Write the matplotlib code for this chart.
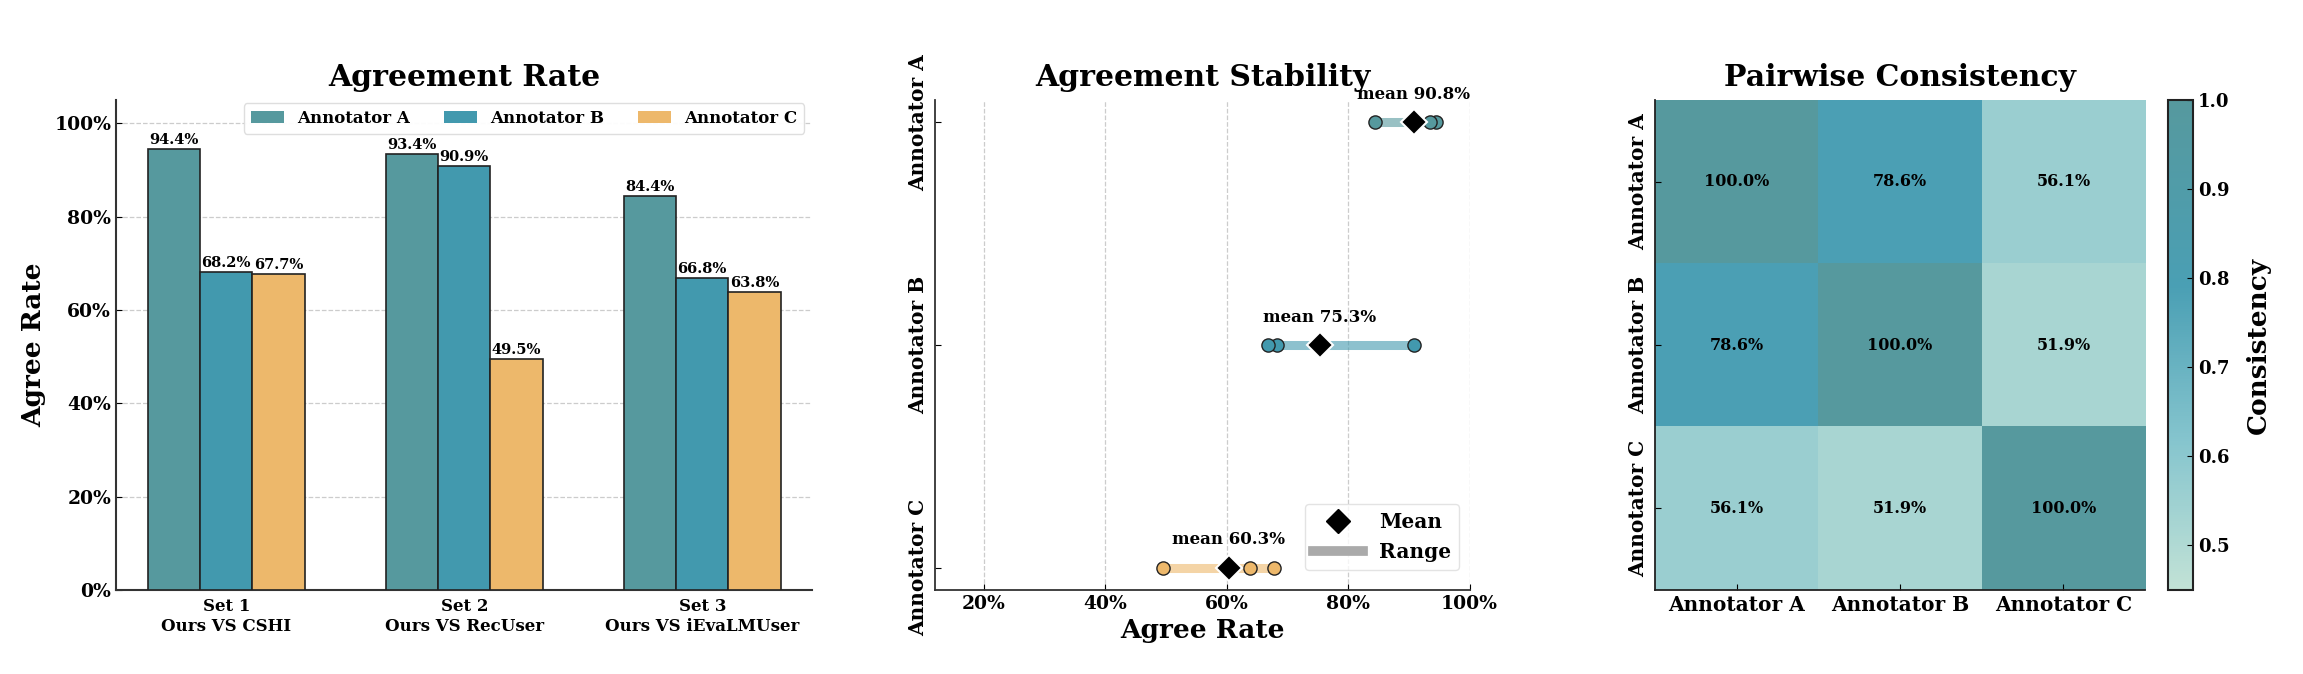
import matplotlib
matplotlib.use("Agg")
import matplotlib.pyplot as plt
import numpy as np
from matplotlib.colors import LinearSegmentedColormap
from matplotlib.lines import Line2D
from matplotlib.patches import Patch
from matplotlib.ticker import PercentFormatter

plt.rcParams['font.family'] = ['DejaVu Serif']
plt.rcParams['font.weight'] = 'bold'
plt.rcParams['axes.titleweight'] = 'bold'
plt.rcParams['axes.labelweight'] = 'bold'
plt.rcParams['xtick.direction'] = 'in'
plt.rcParams['ytick.direction'] = 'in'

# data
sets = ["Set 1\nOurs VS CSHI", "Set 2\nOurs VS RecUser", "Set 3\nOurs VS iEvaLMUser"]
annotators = ["Annotator A", "Annotator B", "Annotator C"]
rate_a = [94.44, 93.42, 84.44]
rate_b = [68.2, 90.9, 66.8]
rate_c = [67.7, 49.5, 63.8]
consistency = [[1.000, 0.786, 0.561],
               [0.786, 1.000, 0.519],
               [0.561, 0.519, 1.000]]

colors = ["#56999E", "#4299AE", "#EDB86B"]
cmap = LinearSegmentedColormap.from_list(
    "cons", [(0.0, "#C2E2D6"), (0.3, "#86C5CE"), (0.62, "#4A9FB4"), (1.0, "#56999E")])

fig = plt.figure(figsize=(23.03, 6.74), dpi=100)
ax1 = fig.add_axes([0.0504, 0.1246, 0.3024, 0.727])
ax2 = fig.add_axes([0.4062, 0.1246, 0.2319, 0.727])
ax3 = fig.add_axes([0.7186, 0.1246, 0.2128, 0.727])
cax = fig.add_axes([0.9414, 0.1246, 0.01086, 0.727])

# --- panel 1: grouped bars
x = np.arange(len(sets))
w = 0.22
all_rates = [rate_a, rate_b, rate_c]
for i, (vals, c, name) in enumerate(zip(all_rates, colors, annotators)):
    bars = ax1.bar(x + (i - 1) * w, vals, w, color=c, edgecolor="#222222",
                   linewidth=1.2, label=name, zorder=3)
    ax1.bar_label(bars, labels=[f"{v:.1f}%" for v in vals], padding=1.5,
                  fontsize=10.5, fontweight='bold')
ax1.set_ylim(0, 105)
ax1.set_yticks(np.arange(0, 101, 20))
ax1.yaxis.set_major_formatter(PercentFormatter(100, decimals=0))
ax1.set_xticks(x)
ax1.set_xticklabels(sets, fontsize=12)
ax1.tick_params(axis='x', length=0, pad=6)
ax1.tick_params(axis='y', labelsize=13.5, length=4)
ax1.set_ylabel("Agree Rate", fontsize=19, labelpad=6)
ax1.set_title("Agreement Rate", fontsize=21.5, pad=10)
ax1.grid(axis='y', linestyle='--', color='#cccccc', linewidth=0.9, zorder=0)
ax1.set_axisbelow(True)
for s in ['top', 'right']:
    ax1.spines[s].set_visible(False)
for s in ['left', 'bottom']:
    ax1.spines[s].set_color('#333333')
    ax1.spines[s].set_linewidth(1.5)
leg_handles = [Patch(facecolor=c, label=n) for c, n in zip(colors, annotators)]
leg1 = ax1.legend(handles=leg_handles, loc='upper right', ncol=3, fontsize=12,
                  bbox_to_anchor=(1.0, 1.01), borderaxespad=0.5, fancybox=True,
                  framealpha=0.95)
leg1.get_frame().set_edgecolor('#dddddd')

# --- panel 2: stability
ypos = np.arange(len(annotators))
for i, (name, c) in enumerate(zip(annotators, colors)):
    vals = all_rates[i]
    mean = np.mean(vals)
    ax2.plot([min(vals), max(vals)], [i, i], color=c, alpha=0.6, linewidth=6.5,
             solid_capstyle='butt', zorder=2)
    ax2.plot(vals, [i] * len(vals), 'o', color=c, markersize=9.5,
             markeredgecolor='#222222', markeredgewidth=1.0, zorder=3)
    ax2.plot([mean], [i], 'D', color='black', markersize=13,
             markeredgecolor='white', markeredgewidth=1.5, zorder=4)
    ax2.annotate(f"mean {mean:.1f}%", (mean, i), xytext=(0, 14),
                 textcoords='offset points', ha='center', va='bottom',
                 fontsize=12, fontweight='bold')
ax2.set_ylim(2.1, -0.1)
ax2.set_yticks(ypos)
ax2.set_yticklabels(annotators, rotation=90, va='center', fontsize=14.5)
ax2.set_xlim(12, 100)
ax2.set_xticks(np.arange(20, 101, 20))
ax2.xaxis.set_major_formatter(PercentFormatter(100, decimals=0))
ax2.tick_params(axis='x', labelsize=13.5, length=4)
ax2.tick_params(axis='y', length=4, pad=5)
ax2.set_xlabel("Agree Rate", fontsize=19)
ax2.set_title("Agreement Stability", fontsize=21.5, pad=10)
ax2.grid(axis='x', linestyle='--', color='#cccccc', linewidth=0.9, zorder=0)
ax2.set_axisbelow(True)
for s in ['top', 'right']:
    ax2.spines[s].set_visible(False)
for s in ['left', 'bottom']:
    ax2.spines[s].set_color('#333333')
    ax2.spines[s].set_linewidth(1.3)
leg2_handles = [Line2D([0], [0], marker='D', color='black', linestyle='none',
                       markersize=12, label='Mean'),
                Line2D([0], [0], color='#aaaaaa', linewidth=7, label='Range')]
leg2 = ax2.legend(handles=leg2_handles, loc='lower right', fontsize=14.5,
                  bbox_to_anchor=(1.0, 0.02), handlelength=2.5, fancybox=True)
leg2.get_frame().set_edgecolor('#dddddd')

# --- panel 3: heatmap
mat = np.array(consistency)
im = ax3.imshow(mat, cmap=cmap, vmin=0.45, vmax=1.0, aspect='auto')
for r in range(mat.shape[0]):
    for c in range(mat.shape[1]):
        ax3.text(c, r, f"{mat[r, c] * 100:.1f}%", ha='center', va='center',
                 fontsize=11.5, fontweight='bold', color='black')
ax3.set_xticks(range(len(annotators)))
ax3.set_xticklabels(annotators, fontsize=14.5)
ax3.set_yticks(range(len(annotators)))
ax3.set_yticklabels(annotators, rotation=90, va='center', fontsize=14.5)
ax3.tick_params(axis='both', length=4)
ax3.tick_params(axis='y', pad=5)
ax3.set_title("Pairwise Consistency", fontsize=21.5, pad=10)
for s in ['top', 'right']:
    ax3.spines[s].set_visible(False)
for s in ['left', 'bottom']:
    ax3.spines[s].set_color('#222222')
    ax3.spines[s].set_linewidth(1.3)
cb = fig.colorbar(im, cax=cax)
cb.set_ticks([0.5, 0.6, 0.7, 0.8, 0.9, 1.0])
cb.ax.tick_params(labelsize=13, length=4, direction='in')
cb.outline.set_linewidth(1.5)
cb.outline.set_edgecolor('#222222')
cb.set_label("Consistency", fontsize=19, fontweight='bold', labelpad=12)

fig.savefig("out.png", dpi=100)
